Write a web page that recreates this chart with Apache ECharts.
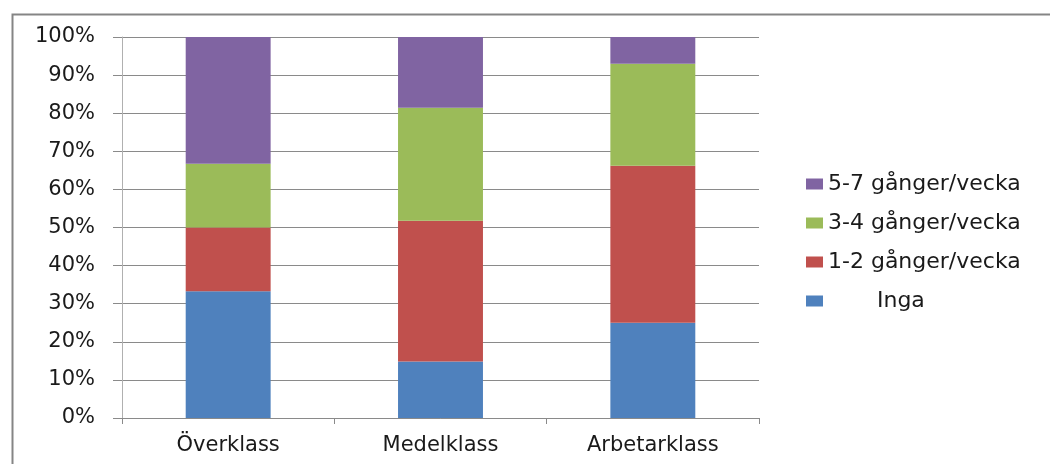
<!DOCTYPE html>
<html>
<head>
<meta charset="utf-8">
<script src="https://cdn.jsdelivr.net/npm/echarts@6/dist/echarts.min.js"></script>
<style>
  html, body { margin: 0; padding: 0; background: #fff; }
  #chart { width: 1050px; height: 464px; }
</style>
</head>
<body>
<div id="chart"></div>
<script>
// Social class categories on the x axis
const categories = ['Överklass', 'Medelklass', 'Arbetarklass'];

// Share of respondents (%) per frequency group, bottom to top
const inga = [33.3, 14.8, 25.0];
const enTvaGanger = [16.7, 37.0, 41.2];
const treFyraGanger = [16.7, 29.6, 26.8];
const femSjuGanger = [33.3, 18.6, 7.0];

const seriesNames = ['       Inga', '1-2 gånger/vecka', '3-4 gånger/vecka', '5-7 gånger/vecka'];
const yTicks = [0, 10, 20, 30, 40, 50, 60, 70, 80, 90, 100];

const colors = ['#4F81BD', '#C0504D', '#9BBB59', '#8064A2'];
const font = 'DejaVu Sans';
const textColor = '#1a1a1a';

const chart = echarts.init(document.getElementById('chart'), null, { renderer: 'canvas' });

const values = [inga, enTvaGanger, treFyraGanger, femSjuGanger];

chart.setOption({
  animation: false,
  backgroundColor: '#fff',
  color: colors,
  graphic: [{
    type: 'rect',
    left: 10,
    top: 12,
    shape: { width: 1100, height: 500 },
    style: { fill: 'none', stroke: '#858585', lineWidth: 2 },
    silent: true
  }],
  grid: { left: 122, right: 291, top: 37, bottom: 46, containLabel: false },
  legend: {
    orient: 'vertical',
    left: 806,
    top: 173,
    padding: 0,
    itemWidth: 17,
    itemHeight: 11,
    itemGap: 17,
    icon: 'rect',
    data: seriesNames.slice().reverse(),
    textStyle: { fontFamily: font, fontSize: 22, color: textColor }
  },
  xAxis: {
    type: 'category',
    data: categories,
    axisLine: { show: true, lineStyle: { color: '#8a8a8a', width: 1 } },
    axisTick: { show: true, alignWithLabel: false, length: 6, lineStyle: { color: '#8a8a8a' } },
    axisLabel: { fontFamily: font, fontSize: 21, color: textColor, margin: 17 },
    splitLine: { show: false }
  },
  yAxis: {
    type: 'value',
    min: 0,
    max: 100,
    interval: 10,
    axisLine: { show: true, lineStyle: { color: '#b0b0b0', width: 1 } },
    axisTick: { show: true, length: 9, lineStyle: { color: '#8a8a8a' } },
    axisLabel: {
      fontFamily: font, fontSize: 21, color: textColor, margin: 27,
      formatter: v => (yTicks.includes(v) ? v + '%' : '')
    },
    splitLine: { show: true, lineStyle: { color: '#8a8a8a', width: 1 } }
  },
  series: seriesNames.map((name, i) => ({
    name,
    type: 'bar',
    stack: 'total',
    barWidth: '40%',
    data: values[i],
    itemStyle: { color: colors[i] }
  }))
});
</script>
</body>
</html>
